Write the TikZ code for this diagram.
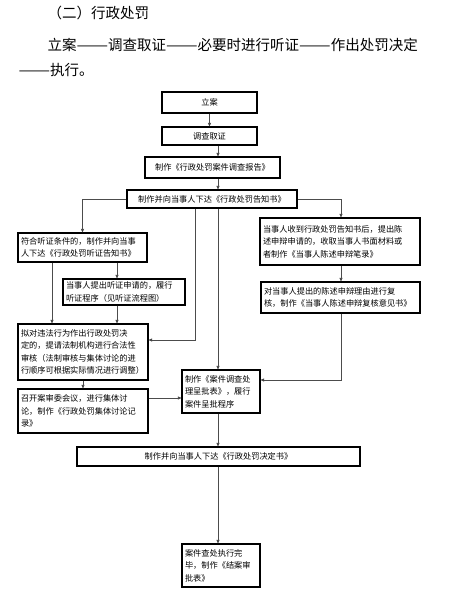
\documentclass[tikz,border=0pt]{standalone}
\usepackage{fontspec}
\setmainfont{Noto Sans CJK SC}
\usetikzlibrary{arrows.meta}
\newcommand{\longdash}{\scalebox{1.3}[1]{——}}
\begin{document}
\begin{tikzpicture}[x=1pt, y=-1pt, font=\fontsize{8.2}{12.5}\selectfont,
   box/.style={draw, line width=1.1pt, inner xsep=3pt, inner ysep=1pt},
   para/.style={box, align=left, text width=#1},
   head/.style={anchor=west, font=\fontsize{14.5}{16}\selectfont},
   link/.style={draw=black!70, line width=0.6pt, -{Triangle[length=3.5pt, width=3pt, fill=black]}}]
   \useasboundingbox (0,0) rectangle (449,600);
   \node (title) [head] at (44,13) {（二）行政处罚};
   \node (steps) [head] at (44,45) {立案\longdash 调查取证\longdash 必要时进行听证\longdash 作出处罚决定};
   \node (stepsend) [head] at (15,70) {\longdash 执行。};

   \node (lian) [box, minimum width=95pt, minimum height=21pt] at (209.5,102.5) {立案};
   \node (diaocha) [box, minimum width=95pt, minimum height=18pt] at (209.5,136) {调查取证};
   \node (baogao) [box, minimum width=135pt, minimum height=21pt] at (212.5,167.5) {制作《行政处罚案件调查报告》};
   \node (gaozhi) [box, minimum width=170pt, minimum height=18pt] at (212,199) {制作并向当事人下达《行政处罚告知书》};
   \node (tingzheng) [para=123pt, minimum height=29pt] at (82.5,247.5) {符合听证条件的，制作并向当事\\人下达《行政处罚听证告知书》};
   \node (shenqing) [para=116pt, minimum height=26pt] at (124,292) {当事人提出听证申请的，履行\\听证程序（见听证流程图）};
   \node (chenshu) [para=154pt, minimum height=47pt] at (340,241.5) {当事人收到行政处罚告知书后，提出陈\\述申辩申请的，收取当事人书面材料或\\者制作《当事人陈述申辩笔录》};
   \node (fuhe) [para=153pt, minimum height=31pt] at (340.5,297.5) {对当事人提出的陈述申辩理由进行复\\核，制作《当事人陈述申辩复核意见书》};
   \node (shenhe) [para=124pt, minimum height=56pt] at (83,352) {拟对违法行为作出行政处罚决\\定的，提请法制机构进行合法性\\审核（法制审核与集体讨论的进\\行顺序可根据实际情况进行调整）};
   \node (taolun) [para=124pt, minimum height=44pt] at (83,411) {召开案审委会议，进行集体讨\\论，制作《行政处罚集体讨论记\\录》};
   \node (chengpi) [para=72pt, minimum height=43pt] at (221,391.5) {制作《案件调查处\\理呈批表》，履行\\案件呈批程序};
   \node (jueding) [box, minimum width=283pt, minimum height=19pt] at (218.5,456.5) {制作并向当事人下达《行政处罚决定书》};
   \node (jiean) [para=72pt, minimum height=43pt] at (221,565.5) {案件查处执行完\\毕，制作《结案审\\批表》};

   \coordinate (colA) at (52,0);
   \coordinate (colB) at (117,0);
   \coordinate (colC) at (195,0);
   \coordinate (colD) at (218,0);
   \coordinate (colE) at (341,0);
   \coordinate (rowA) at (0,340);
   \coordinate (rowB) at (0,380);
   \coordinate (rowC) at (0,398);

   \draw [link] (lian) -- (diaocha);
   \draw [link] (diaocha.south -| colD) -- (baogao.north -| colD);
   \draw [link] (baogao.south -| colD) -- (gaozhi.north -| colD);
   \draw [link] (gaozhi.west) -| (tingzheng.north);
   \draw [link] (gaozhi.east) -| (chenshu.north -| colE);
   \draw [link] (tingzheng.south -| colA) -- (shenhe.north -| colA);
   \draw [link] (tingzheng.south -| colB) -- (shenqing.north -| colB);
   \draw [link] (shenqing.south -| colB) -- (shenhe.north -| colB);
   \draw [link] (gaozhi.south -| colC) -- (colC |- rowA) -- (shenhe.east |- rowA);
   \draw [link] (gaozhi.south -| colD) -- (chengpi.north -| colD);
   \draw [link] (chenshu.south -| colE) -- (fuhe.north -| colE);
   \draw [link] (fuhe.south -| colE) |- (chengpi.east |- rowB);
   \draw [link] (shenhe) -- (taolun);
   \draw [link] (taolun.east |- rowC) -- (chengpi.west |- rowC);
   \draw [link] (chengpi.south -| colD) -- (jueding.north -| colD);
   \draw [link] (jueding.south -| colD) -- (jiean.north -| colD);
\end{tikzpicture}
\end{document}
